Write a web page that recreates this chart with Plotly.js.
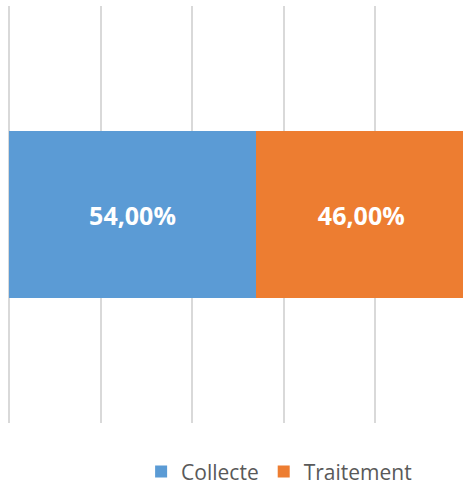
<!DOCTYPE html>
<html>
<head>
<meta charset="utf-8">
<script src="https://cdn.plot.ly/plotly-3.0.1.min.js"></script>
<style>
  body { margin: 0; background: #ffffff; }
  #chart { width: 463px; height: 486px; }
</style>
</head>
<body>
<div id="chart"></div>
<script>
// data
var categories = [""];
var seriesNames = ["Collecte", "Traitement"];
var seriesValues = [[0.54], [0.46]];
var seriesColors = ["#5b9bd5", "#ed7d31"];

var traces = [];
seriesNames.forEach(function (name, i) {
    traces.push({
        type: 'bar',
        orientation: 'h',
        name: name,
        x: seriesValues[i],
        y: categories,
        width: 0.4,
        marker: { color: seriesColors[i] },
        texttemplate: '%{x:.2%}',
        textposition: 'inside',
        insidetextanchor: 'middle',
        textfont: { family: 'Open Sans', size: 25, color: '#ffffff', weight: 'bold' },
        hoverinfo: 'none'
    });
});

var layout = {
    width: 463,
    height: 486,
    barmode: 'stack',
    separators: ', ',
    margin: { l: 9, r: 0, t: 6, b: 63 },
    paper_bgcolor: '#ffffff',
    plot_bgcolor: '#ffffff',
    showlegend: true,
    legend: {
        orientation: 'h',
        x: 0.291,
        xanchor: 'left',
        yref: 'container',
        y: 0.029,
        yanchor: 'middle',
        font: { family: 'Open Sans', size: 21, color: '#595959' },
        traceorder: 'normal'
    },
    xaxis: {
        range: [0, 0.9923],
        tick0: 0,
        dtick: 0.2,
        showgrid: true,
        gridcolor: '#d9d9d9',
        gridwidth: 2,
        zeroline: true,
        zerolinecolor: '#d9d9d9',
        zerolinewidth: 2,
        showticklabels: false,
        showline: false,
        ticks: ''
    },
    yaxis: {
        range: [-0.5, 0.5],
        showgrid: false,
        zeroline: false,
        showticklabels: false,
        showline: false,
        ticks: ''
    }
};

Plotly.newPlot('chart', traces, layout, { displayModeBar: false, staticPlot: true });
</script>
</body>
</html>
